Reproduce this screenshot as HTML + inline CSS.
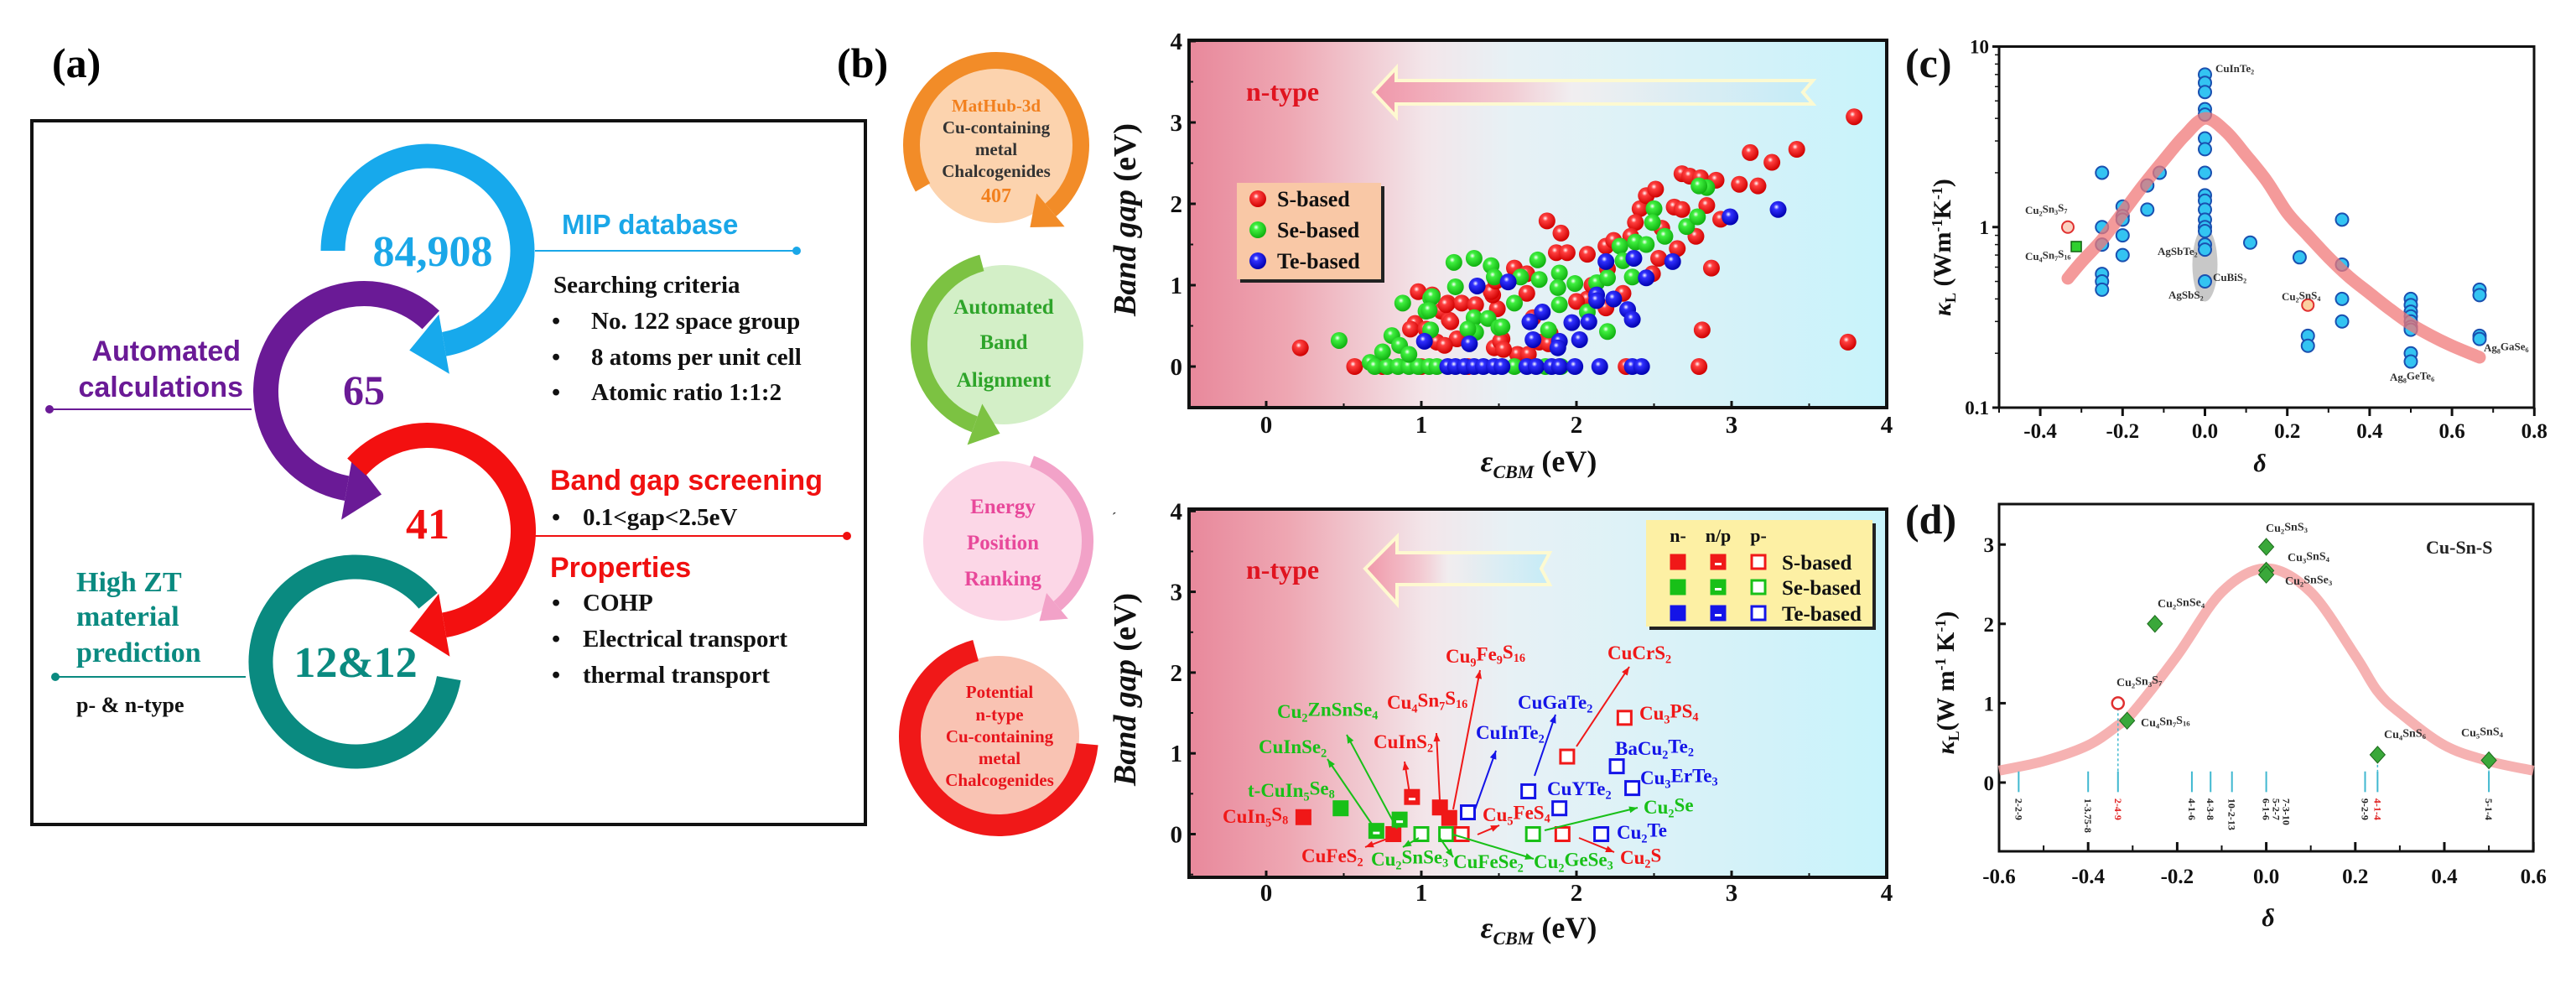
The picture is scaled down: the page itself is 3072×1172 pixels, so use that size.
<!DOCTYPE html>
<html><head><meta charset="utf-8">
<style>
html,body{margin:0;padding:0;background:#fff;}
svg{display:block;}
text{font-family:"Liberation Serif",serif;font-weight:bold;}
.sans{font-family:"Liberation Sans",sans-serif;font-weight:bold;}
</style></head>
<body>
<svg id="fig" width="3072" height="1172" viewBox="0 0 3072 1172" xmlns="http://www.w3.org/2000/svg">
<defs>
<linearGradient id="bgGrad" x1="0" y1="0" x2="1" y2="0">
<stop offset="0" stop-color="#e8889b"/><stop offset="0.14" stop-color="#eea6b2"/><stop offset="0.34" stop-color="#f3e6ea"/><stop offset="0.46" stop-color="#e7f1f5"/><stop offset="1" stop-color="#c8f3fb"/>
</linearGradient>
<linearGradient id="arrGrad" x1="0" y1="0" x2="1" y2="0">
<stop offset="0" stop-color="#f095a8"/><stop offset="0.3" stop-color="#f3c8d0"/><stop offset="0.45" stop-color="#f2eef0"/><stop offset="1" stop-color="#c4ecf7"/>
</linearGradient>
<radialGradient id="ballR" cx="0.4" cy="0.35" r="0.65"><stop offset="0" stop-color="#fff"/><stop offset="0.25" stop-color="#ff4040"/><stop offset="1" stop-color="#d00000"/></radialGradient>
<radialGradient id="ballG" cx="0.4" cy="0.35" r="0.65"><stop offset="0" stop-color="#fff"/><stop offset="0.25" stop-color="#40f040"/><stop offset="1" stop-color="#10b010"/></radialGradient>
<radialGradient id="ballB" cx="0.4" cy="0.35" r="0.65"><stop offset="0" stop-color="#fff"/><stop offset="0.25" stop-color="#3030ff"/><stop offset="1" stop-color="#0000b0"/></radialGradient>
</defs>

<!-- Panel (a) -->
<text x="62" y="92" font-size="50">(a)</text>
<rect x="38" y="144" width="994" height="839" fill="#fff" stroke="#111" stroke-width="4"/>
<g id="panelA"></g>
<text x="516" y="317" font-size="52" fill="#1aa7e8" text-anchor="middle">84,908</text>
<text x="434" y="482" font-size="50" fill="#6a1a96" text-anchor="middle">65</text>
<text x="510" y="642" font-size="52" fill="#f01010" text-anchor="middle">41</text>
<text x="424" y="807" font-size="52" fill="#0a8a80" text-anchor="middle">12&amp;12</text>
<text class="sans" x="670" y="279" font-size="33" fill="#1aa7e8">MIP  database</text>
<line x1="638" y1="299" x2="950" y2="299" stroke="#1aa7e8" stroke-width="2"/>
<circle cx="950" cy="299" r="5" fill="#1aa7e8"/>
<text x="660" y="349" font-size="29" fill="#111">Searching criteria</text>
<g font-size="29" fill="#111">
<text x="658" y="392">•</text><text x="705" y="392">No. 122 space group</text>
<text x="658" y="435">•</text><text x="705" y="435">8 atoms per unit cell</text>
<text x="658" y="477">•</text><text x="705" y="477">Atomic ratio 1:1:2</text>
</g>
<text class="sans" x="287" y="430" font-size="34" fill="#6a1a96" text-anchor="end">Automated</text>
<text class="sans" x="290" y="473" font-size="34" fill="#6a1a96" text-anchor="end">calculations</text>
<line x1="59" y1="488" x2="300" y2="488" stroke="#6a1a96" stroke-width="2"/>
<circle cx="59" cy="488" r="5" fill="#6a1a96"/>
<text class="sans" x="656" y="584" font-size="34" fill="#f01010">Band gap screening</text>
<g font-size="29" fill="#111"><text x="658" y="626">•</text><text x="695" y="626">0.1&lt;gap&lt;2.5eV</text></g>
<line x1="638" y1="639" x2="1010" y2="639" stroke="#f01010" stroke-width="2"/>
<circle cx="1010" cy="639" r="5" fill="#f01010"/>
<text class="sans" x="656" y="688" font-size="34" fill="#f01010">Properties</text>
<g font-size="29" fill="#111">
<text x="658" y="728">•</text><text x="695" y="728">COHP</text>
<text x="658" y="771">•</text><text x="695" y="771">Electrical transport</text>
<text x="658" y="814">•</text><text x="695" y="814">thermal transport</text>
</g>
<g class="sans" font-size="34" fill="#0a8a80">
<text x="91" y="705">High ZT</text><text x="91" y="746">material</text><text x="91" y="789">prediction</text>
</g>
<line x1="66" y1="807" x2="293" y2="807" stroke="#0a8a80" stroke-width="2"/>
<circle cx="66" cy="807" r="5" fill="#0a8a80"/>
<text x="91" y="849" font-size="26" fill="#111">p- &amp; n-type</text>

<!-- Panel (b) flow -->
<text x="998" y="92" font-size="50">(b)</text>
<g id="flowArcs"></g>
<g font-size="21" text-anchor="middle">
<text x="1188" y="133" fill="#f2801e">MatHub-3d</text>
<text x="1188" y="159" fill="#333">Cu-containing</text>
<text x="1188" y="185" fill="#333">metal</text>
<text x="1188" y="211" fill="#333">Chalcogenides</text>
<text x="1188" y="241" fill="#f2801e" font-size="24">407</text>
</g>
<g font-size="25" fill="#2ea42a" text-anchor="middle">
<text x="1197" y="374">Automated</text><text x="1197" y="416">Band</text><text x="1197" y="461">Alignment</text>
</g>
<g font-size="25" fill="#e8489a" text-anchor="middle">
<text x="1196" y="612">Energy</text><text x="1196" y="655">Position</text><text x="1196" y="698">Ranking</text>
</g>
<g font-size="21" fill="#e8141c" text-anchor="middle">
<text x="1192" y="832">Potential</text><text x="1192" y="859">n-type</text><text x="1192" y="885">Cu-containing</text><text x="1192" y="911">metal</text><text x="1192" y="937">Chalcogenides</text>
</g>
<text x="1326" y="622" font-size="16" fill="#333">ˊ</text>

<g id="chartTop"></g>
<g id="chartBot"></g>
<g id="chartC"></g>
<g id="chartD"></g>
</svg>

<script>
// ---------- Data: top scatter (b) ----------
const sBasedX = [0.22,0.57,0.75,1.0,1.3,1.62,1.69,0.98,1.07,0.96,0.93,1.03,1.13,1.18,1.23,1.10,1.17,1.26,1.35,1.16,1.19,1.49,1.46,1.45,1.48,1.6,1.68,1.68,1.52,1.47,1.51,1.53,1.15,1.83,1.76,1.82,1.81,1.90,1.87,1.94,2.07,2.19,2.24,2.07,2.19,2.3,2.49,2.53,2.65,2.77,2.41,2.38,2.45,2.51,2.63,2.68,2.84,2.93,2.68,2.73,2.8,2.9,3.05,3.17,3.12,3.26,3.42,3.79,2.87,2.81,2.79,2.32,3.75,2.0,2.1,1.72,2.2,2.35,2.55];
const sBasedY = [0.23,0,0,0,0,0.15,0.15,0.92,0.88,0.53,0.46,0.46,0.68,0.57,0.34,0.30,0.78,0.78,0.76,0.76,0.55,0.71,0.88,0.92,1.05,1.21,1.14,0.9,0.34,0.23,0.31,0.21,0.26,0.41,0.30,0.28,1.79,1.64,1.40,1.40,1.38,1.48,1.55,0.83,0.72,0.9,1.14,1.33,1.45,1.60,1.94,1.77,2.1,2.18,1.96,1.93,1.98,1.81,2.37,2.34,2.32,2.29,2.24,2.22,2.63,2.51,2.67,3.07,1.21,0.45,0,0,0.30,0.8,1.0,0.6,1.2,1.6,1.7];
const seBasedX = [0.47,0.67,0.70,0.78,0.85,0.92,0.98,1.05,1.1,1.6,1.8,1.9,0.75,0.81,0.86,0.92,0.88,1.06,1.03,1.07,1.05,1.06,1.21,1.34,1.45,1.22,1.47,1.64,1.75,1.76,1.89,1.99,1.88,1.89,1.60,1.34,1.43,1.50,1.35,1.82,2.20,2.07,2.13,2.20,2.28,2.38,2.45,2.50,2.49,2.57,2.71,2.78,2.84,2.79,2.36,2.30,1.3,1.52];
const seBasedY = [0.32,0.05,0,0,0,0,0,0,0,0,0,0,0.18,0.38,0.26,0.15,0.78,0.84,0.68,0.86,0.69,0.45,1.28,1.33,1.24,0.98,1.10,1.10,1.31,1.07,1.15,1.02,0.97,0.76,0.78,0.60,0.59,0.48,0.42,0.45,0.43,0.67,1.03,1.09,1.48,1.53,1.50,1.94,1.77,1.60,1.72,1.84,2.20,2.22,1.10,1.30,0.46,0.49];
const teBasedX = [1.36,1.56,2.19,2.37,2.62,2.45,2.99,3.30,2.13,2.13,2.24,2.33,2.36,1.78,1.70,1.97,2.08,1.72,1.89,2.02,1.88,1.31,1.02,1.17,1.22,1.28,1.34,1.40,1.47,1.52,1.68,1.74,1.84,1.89,1.99,2.15,2.36,2.42];
const teBasedY = [0.99,1.04,1.29,1.33,1.29,1.09,1.84,1.93,0.88,0.81,0.83,0.70,0.58,0.67,0.55,0.54,0.55,0.33,0.31,0.33,0.23,0.28,0.31,0,0,0,0,0,0,0,0,0,0,0,0,0,0,0];
const bTicksX = [0,1,2,3,4];
const bTicksY = [0,1,2,3,4];

// ---------- Data: bottom scatter (b) ----------
const candX = [0.24,0.48,0.71,0.82,0.86,0.94,1.0,1.12,1.18,1.16,1.26,1.30,1.72,1.69,1.89,1.91,1.94,2.16,2.26,2.36,2.31];
const candY = [0.21,0.32,0.04,0,0.18,0.46,0,0.33,0.20,0,0,0.27,0,0.53,0.32,0,0.96,0,0.84,0.57,1.44];
const candAnion = ['S','Se','Se','S','Se','S','Se','S','S','Se','S','Te','Se','Te','Te','S','S','Te','Te','Te','S'];
const candType = ['n','n','np','n','np','np','p','n','n','p','p','p','p','p','p','p','p','p','p','p','p'];

// ---------- Data: panel (c) ----------
const cDelta = [-0.25,-0.25,-0.25,-0.25,-0.25,-0.25,-0.2,-0.2,-0.2,-0.2,-0.2,-0.14,-0.14,-0.11,0,0,0,0,0,0,0,0,0,0,0,0,0,0,0,0,0,0.11,0.23,0.25,0.25,0.333,0.333,0.333,0.333,0.5,0.5,0.5,0.5,0.5,0.5,0.5,0.5,0.5,0.667,0.667,0.667,0.667];
const cKappa = [2.0,1.0,0.8,0.55,0.5,0.45,1.3,1.15,1.1,0.9,0.7,1.7,1.25,2.0,7.0,6.3,5.6,4.5,4.2,3.1,2.7,2.0,1.5,1.4,1.25,1.1,1.0,0.95,0.8,0.75,0.5,0.82,0.68,0.25,0.22,1.1,0.62,0.4,0.3,0.4,0.37,0.34,0.32,0.3,0.28,0.27,0.2,0.18,0.45,0.42,0.25,0.24];
const cCurveD = [-0.333,-0.3,-0.25,-0.2,-0.15,-0.1,-0.05,0,0.05,0.1,0.15,0.2,0.25,0.3,0.35,0.4,0.45,0.5,0.55,0.6,0.667];
const cCurveK = [0.52,0.64,0.85,1.2,1.7,2.35,3.2,4.0,3.4,2.5,1.8,1.2,0.9,0.68,0.53,0.43,0.35,0.29,0.25,0.22,0.19];
const cSpecialD = [-0.333,-0.3125,0.25];
const cSpecialK = [1.0,0.78,0.37];
const cTicksX = [-0.4,-0.2,0.0,0.2,0.4,0.6,0.8];
const cTicksY = [0.1,1,10];

// ---------- Data: panel (d) ----------
const dDelta = [0,0,0,-0.25,-0.3125,0.25,0.5];
const dKappa = [2.97,2.67,2.62,2.0,0.78,0.35,0.28];
const dOpenDelta = [-0.333];
const dOpenKappa = [1.0];
const dCurveD = [-0.6,-0.5,-0.4,-0.333,-0.3,-0.2,-0.1,0,0.1,0.2,0.25,0.3,0.4,0.5,0.6];
const dCurveK = [0.15,0.27,0.47,0.72,0.88,1.6,2.4,2.7,2.4,1.6,1.15,0.88,0.47,0.27,0.15];
const dCompX = [-0.556,-0.4,-0.333,-0.167,-0.125,-0.077,0,0.222,0.25,0.5];
const dCompLabel = ['2-2-9','1-3.75-8','2-4-9','4-1-6','4-3-8','10-2-13','6-1-6  5-2-7  7-3-10','9-2-9','4-1-4','5-1-4'];
const dTicksX = [-0.6,-0.4,-0.2,0.0,0.2,0.4,0.6];
const dTicksY = [0,1,2,3];

const NS = "http://www.w3.org/2000/svg";
function mk(tag, attrs, parent){const e=document.createElementNS(NS,tag);for(const k in attrs)e.setAttribute(k,attrs[k]);parent.appendChild(e);return e;}
function smoothPath(pts){
  let d = `M${pts[0][0]},${pts[0][1]}`;
  for(let i=0;i<pts.length-1;i++){
    const p0=pts[Math.max(0,i-1)], p1=pts[i], p2=pts[i+1], p3=pts[Math.min(pts.length-1,i+2)];
    const c1=[p1[0]+(p2[0]-p0[0])/6, p1[1]+(p2[1]-p0[1])/6];
    const c2=[p2[0]-(p3[0]-p1[0])/6, p2[1]-(p3[1]-p1[1])/6];
    d += ` C${c1[0]},${c1[1]} ${c2[0]},${c2[1]} ${p2[0]},${p2[1]}`;
  }
  return d;
}
function chem(el, str){
  const parts = str.split(/(\d+)/);
  let sub=false;
  parts.forEach(p=>{ if(!p) return; const isD=/^\d+$/.test(p);
    const t=document.createElementNS(NS,'tspan');
    if(isD){t.setAttribute('font-size','0.62em');t.setAttribute('dy', sub?'0':'0.3em');sub=true;}
    else{ if(sub){t.setAttribute('dy','-0.3em');} sub=false;}
    t.textContent=p; el.appendChild(t);});
}
function polar(cx,cy,r,a){const t=a*Math.PI/180;return [cx+r*Math.cos(t),cy+r*Math.sin(t)];}
function arcArrow(parent,cx,cy,r,a1,a2,w,color,head,hw,hl){
  const cw = a2>a1; const [x1,y1]=polar(cx,cy,r,a1); const [x2,y2]=polar(cx,cy,r,a2);
  const large = Math.abs(a2-a1)>180?1:0;
  const p = mk('path',{d:`M${x1},${y1} A${r},${r} 0 ${large} ${cw?1:0} ${x2},${y2}`,fill:'none',stroke:color,'stroke-width':w},parent);
  if(head){
    const t=a2*Math.PI/180; const tx=cw?-Math.sin(t):Math.sin(t), ty=cw?Math.cos(t):-Math.cos(t);
    const nx=Math.cos(t), ny=Math.sin(t);
    const pts=[[x2+nx*hw,y2+ny*hw],[x2-nx*hw,y2-ny*hw],[x2+tx*hl,y2+ty*hl]];
    const h = mk('polygon',{points:pts.map(q=>q.join(',')).join(' '),fill:color},parent);
    
    
  }
  return p;
}

// ---------- Panel (a) arcs ----------
const gA = document.getElementById('panelA');
let a;
a = arcArrow(gA,510,299,113,180,440,29,'#17a9ec',true,36,42);


a = arcArrow(gA,434,467,117,313,100,30,'#6a1a96',true,38,42);


a = arcArrow(gA,510,633,114,222,440,30,'#f31010',true,38,42);


a = arcArrow(gA,424,789,113,10,320,29,'#0a8a80',false);



// ---------- Flow circles ----------
const gF = document.getElementById('flowArcs');
let c;
c = mk('circle',{cx:1188,cy:173,r:93,fill:'#fcd3ae'},gF);


a = arcArrow(gF,1188,173,101,150,410,20,'#f28c28',true,26,32);


c = mk('circle',{cx:1197,cy:411,r:95,fill:'#d3efc7'},gF);


a = arcArrow(gF,1197,411,101,255,110,20,'#7cc242',true,26,32);


c = mk('circle',{cx:1196,cy:645,r:95,fill:'#fcd7e7'},gF);


a = arcArrow(gF,1196,645,101,290,410,14,'#f2a2c8',true,20,28);


c = mk('circle',{cx:1191,cy:878,r:96,fill:'#f9c3b3'},gF);


a = arcArrow(gF,1191,878,106,5,255,26,'#f01818',false);



// ---------- (b) charts shared ----------
const xB = e => 1510 + 185*e;
function drawBFrame(g, yMap, top, bottom, arrowPts, ntypeY, tickY, titleY, ylabY){
  const r = mk('rect',{x:1418,y:top,width:832,height:bottom-top,fill:'url(#bgGrad)'},g);
  
  
  const ar = mk('polygon',{points:arrowPts,fill:'url(#arrGrad)',stroke:'#fffbd0','stroke-width':4,opacity:0.95},g);
  
  
  const nt = mk('text',{x:1486,y:ntypeY,'font-size':32,fill:'#e01420'},g);
  nt.textContent='n-type';
  
  
  bTicksX.forEach(v=>{
    const t=mk('line',{x1:xB(v),x2:xB(v),y1:bottom,y2:bottom-8,stroke:'#111','stroke-width':3},g);
    
    
    const m=mk('line',{x1:xB(v-0.5),x2:xB(v-0.5),y1:bottom,y2:bottom-5,stroke:'#111','stroke-width':2},g);
    
    
    const l=mk('text',{x:xB(v),y:tickY,'font-size':29,'text-anchor':'middle',fill:'#111'},g);
    l.textContent=String(v);
    
    
  });
  bTicksY.forEach(v=>{
    const t=mk('line',{x1:1418,x2:1426,y1:yMap(v),y2:yMap(v),stroke:'#111','stroke-width':3},g);
    
    
    const m=mk('line',{x1:1418,x2:1423,y1:yMap(v-0.5),y2:yMap(v-0.5),stroke:'#111','stroke-width':2},g);
    
    
    const l=mk('text',{x:1410,y:yMap(v)+10,'font-size':29,'text-anchor':'end',fill:'#111'},g);
    l.textContent=String(v);
    
    
  });
  const fr = mk('rect',{x:1418,y:top,width:832,height:bottom-top,fill:'none',stroke:'#111','stroke-width':4},g);
  
  
  const xt = mk('text',{x:1835,y:titleY,'font-size':36,'text-anchor':'middle',fill:'#111'},g);
  xt.innerHTML='<tspan font-style="italic">ε</tspan><tspan font-style="italic" font-size="22" dy="8">CBM</tspan><tspan dy="-8"> (eV)</tspan>';
  
  
  const yt = mk('text',{x:0,y:0,'font-size':38,'text-anchor':'middle',fill:'#111',transform:`translate(1354,${ylabY}) rotate(-90)`},g);
  yt.innerHTML='<tspan font-style="italic">Band gap</tspan> (eV)';
  
  
}

// top chart
const gT = document.getElementById('chartTop');
const yT = g => 437 - 97*g;
drawBFrame(gT, yT, 48, 486, '1638,110 1665,81 1665,96 2162,96 2150,110 2162,124 1665,124 1665,139', 120, 516, 562, 262);
function balls(xs, ys, fill, name){
  xs.forEach((v,i)=>{
    const b = mk('circle',{cx:xB(v),cy:yT(ys[i]),r:10,fill:fill},gT);
    
    
  });
}
balls(sBasedX, sBasedY, 'url(#ballR)', 's-based-point');
balls(seBasedX, seBasedY, 'url(#ballG)', 'se-based-point');
balls(teBasedX, teBasedY, 'url(#ballB)', 'te-based-point');
{
  const sh = mk('rect',{x:1479,y:222,width:172,height:115,fill:'#222'},gT);
  
  
  const lg = mk('rect',{x:1475,y:218,width:172,height:115,fill:'#f9c8a6'},gT);
  
  
  [['url(#ballR)','S-based',237],['url(#ballG)','Se-based',274],['url(#ballB)','Te-based',311]].forEach(e=>{
    const m = mk('circle',{cx:1500,cy:e[2],r:10,fill:e[0]},gT);
    
    
    const t = mk('text',{x:1523,y:e[2]+9,'font-size':26,fill:'#111'},gT);
    t.textContent=e[1];
    
    
  });
}

// bottom chart
const gB = document.getElementById('chartBot');
const yB = g => 994.5 - 96.3*g;
drawBFrame(gB, yB, 607, 1046, '1628,678 1666,640 1666,659 1848,659 1838,678 1848,697 1666,697 1666,720', 690, 1074, 1118, 822);
const colMap = {S:'#f01818',Se:'#18c018',Te:'#1414e8'};
function sq(g,cx,cy,anion,type,name){
  const col = colMap[anion];
  const s = mk('rect',{x:cx-8,y:cy-8,width:16,height:16,fill:type==='p'?'#fff':col,stroke:col,'stroke-width':3},g);
  
  
  if(type==='np'){
    const w = mk('rect',{x:cx-4,y:cy+1,width:8,height:3,fill:'#fff'},g);
    
    
  }
}
candX.forEach((v,i)=>{ sq(gB, xB(v), yB(candY[i]), candAnion[i], candType[i], 'candidate-point'); });
const labels = [
 ['CuIn5S8',1458,981,'S'],['t-CuIn5Se8',1488,950,'Se'],['CuInSe2',1501,898,'Se'],['Cu2ZnSnSe4',1523,856,'Se'],
 ['CuInS2',1638,892,'S'],['Cu4Sn7S16',1654,845,'S'],['Cu9Fe9S16',1724,790,'S'],['CuInTe2',1760,881,'Te'],
 ['CuGaTe2',1810,845,'Te'],['Cu5FeS4',1768,979,'S'],['CuFeS2',1552,1028,'S'],['Cu2SnSe3',1635,1032,'Se'],
 ['CuFeSe2',1733,1035,'Se'],['Cu2GeSe3',1829,1035,'Se'],['CuCrS2',1917,786,'S'],['Cu3PS4',1955,858,'S'],
 ['BaCu2Te2',1926,900,'Te'],['Cu3ErTe3',1956,935,'Te'],['CuYTe2',1845,948,'Te'],['Cu2Se',1960,970,'Se'],
 ['Cu2Te',1928,1000,'Te'],['Cu2S',1932,1030,'S']];
labels.forEach(l=>{
  const t = mk('text',{x:l[1],y:l[2],'font-size':23,fill:colMap[l[3]]},gB);
  chem(t,l[0]);
  
  
});
const arrows = [
 [1641,990,1583,905,'Se'],[1666,988,1606,876,'Se'],[1681,946,1675,908,'S'],[1717,954,1713,874,'S'],
 [1733,965,1765,799,'S'],[1759,965,1784,895,'Te'],[1830,925,1855,852,'Te'],[1762,995,1788,984,'S'],
 [1657,999,1628,1010,'S'],[1692,999,1673,1010,'Se'],[1717,999,1733,1022,'Se'],[1733,995,1829,1024,'Se'],
 [1880,890,1943,795,'S'],[1842,990,1953,963,'Se'],[1883,999,1925,1016,'S']];
arrows.forEach(r=>{
  const col = colMap[r[4]];
  const ln = mk('line',{x1:r[0],y1:r[1],x2:r[2],y2:r[3],stroke:col,'stroke-width':2},gB);
  
  
  const ang = Math.atan2(r[3]-r[1], r[2]-r[0]);
  const p1=[r[2]-10*Math.cos(ang)+4*Math.sin(ang), r[3]-10*Math.sin(ang)-4*Math.cos(ang)];
  const p2=[r[2]-10*Math.cos(ang)-4*Math.sin(ang), r[3]-10*Math.sin(ang)+4*Math.cos(ang)];
  const hd = mk('polygon',{points:`${r[2]},${r[3]} ${p1.join(',')} ${p2.join(',')}`,fill:col},gB);
  
  
});
{
  const sh = mk('rect',{x:1967,y:624,width:270,height:127,fill:'#222'},gB);
  
  
  const lg = mk('rect',{x:1963,y:620,width:270,height:127,fill:'#fdf0a4'},gB);
  
  
  [['n-',2001],['n/p',2049],['p-',2097]].forEach(h=>{
    const t = mk('text',{x:h[1],y:646,'font-size':22,'text-anchor':'middle',fill:'#111'},gB);
    t.textContent=h[0];
    
    
  });
  [['S','S-based',670],['Se','Se-based',700],['Te','Te-based',731]].forEach(r=>{
    sq(gB,2001,r[2],r[0],'n','legend-marker');
    sq(gB,2049,r[2],r[0],'np','legend-marker');
    sq(gB,2097,r[2],r[0],'p','legend-marker');
    const t = mk('text',{x:2125,y:r[2]+9,'font-size':25,fill:'#111'},gB);
    t.textContent=r[1];
    
    
  });
}

// ---------- Panel (c) ----------
const gC = document.getElementById('chartC');
const xC = d => 2384 + (d+0.5)*491;
const yC = k => 270.75 - 215.25*Math.log10(k);
{
  const lab = mk('text',{x:2272,y:92,'font-size':50,fill:'#111'},gC);
  lab.textContent='(c)';
  
  
  const fr = mk('rect',{x:2384,y:55.5,width:638,height:430.5,fill:'#fff',stroke:'#111','stroke-width':3},gC);
  
  
  for(let d=-0.5; d<=0.801; d+=0.1){
    const t = mk('line',{x1:xC(d),x2:xC(d),y1:486,y2:492,stroke:'#111','stroke-width':2},gC);
    
    
  }
  cTicksX.forEach(v=>{
    const t = mk('line',{x1:xC(v),x2:xC(v),y1:486,y2:496,stroke:'#111','stroke-width':3},gC);
    
    
    const l = mk('text',{x:xC(v),y:522,'font-size':25,'text-anchor':'middle',fill:'#111'},gC);
    l.textContent=v.toFixed(1);
    
    
  });
  cTicksY.forEach(v=>{
    const t = mk('line',{x1:2376,x2:2384,y1:yC(v),y2:yC(v),stroke:'#111','stroke-width':3},gC);
    
    
    const l = mk('text',{x:2372,y:yC(v)+8,'font-size':23,'text-anchor':'end',fill:'#111'},gC);
    l.textContent=String(v);
    
    
    if(v<10){ for(let m=2;m<10;m++){
      const mt = mk('line',{x1:2379,x2:2384,y1:yC(v*m),y2:yC(v*m),stroke:'#111','stroke-width':1.5},gC);
      
      
    }}
  });
  const xt = mk('text',{x:2695,y:562,'font-size':30,'font-style':'italic','font-weight':'normal','text-anchor':'middle',fill:'#111'},gC);
  xt.textContent='δ';
  
  
  const yt = mk('text',{x:0,y:0,'font-size':30,'text-anchor':'middle',fill:'#111',transform:'translate(2326,295) rotate(-90)'},gC);
  yt.innerHTML='<tspan font-style="italic">κ</tspan><tspan font-size="18" dy="6">L</tspan><tspan dy="-6"> (Wm</tspan><tspan font-size="18" dy="-10">-1</tspan><tspan dy="10">K</tspan><tspan font-size="18" dy="-10">-1</tspan><tspan dy="10">)</tspan>';
  
  
  const el = mk('ellipse',{cx:xC(0),cy:yC(0.62),rx:15,ry:44,fill:'#c8c8c8'},gC);
  
  
  cDelta.forEach((d,i)=>{
    const p = mk('circle',{cx:xC(d),cy:yC(cKappa[i]),r:7.5,fill:'#33c4f2',stroke:'#1a50b0','stroke-width':2},gC);
    
    
  });
  const cv = mk('path',{d:smoothPath(cCurveD.map((d,i)=>[xC(d),yC(cCurveK[i])])),fill:'none',stroke:'#f07878','stroke-width':15,'stroke-linecap':'round','stroke-linejoin':'round',opacity:0.75},gC);
  
  
  const s0 = mk('circle',{cx:xC(cSpecialD[0]),cy:yC(cSpecialK[0]),r:7,fill:'#fbd0c0',stroke:'#e03030','stroke-width':2},gC);
  
  
  const s1 = mk('rect',{x:xC(cSpecialD[1])-6,y:yC(cSpecialK[1])-6,width:12,height:12,fill:'#30d030',stroke:'#106010','stroke-width':1.5},gC);
  
  
  const s2 = mk('circle',{cx:xC(cSpecialD[2]),cy:yC(cSpecialK[2]),r:7,fill:'#fbd0a0',stroke:'#e03030','stroke-width':2},gC);
  
  
  [['CuInTe2',2642,86],['Cu2Sn3S7',2415,255],['Cu4Sn7S16',2415,310],['AgSbTe2',2573,304],['CuBiS2',2639,335],['AgSbS2',2586,356],['Cu2SnS4',2721,358],['Ag8GeTe6',2850,454],['Ag8GaSe6',2962,419]].forEach(l=>{
    const t = mk('text',{x:l[1],y:l[2],'font-size':13,fill:'#333'},gC);
    chem(t,l[0]);
    
    
  });
}

// ---------- Panel (d) ----------
const gD = document.getElementById('chartD');
const xD = d => 2384 + (d+0.6)*531;
const yD = v => 933 - 94.6*v;
{
  const lab = mk('text',{x:2272,y:636,'font-size':50,fill:'#111'},gD);
  lab.textContent='(d)';
  
  
  const fr = mk('rect',{x:2384,y:601,width:637,height:414,fill:'#fff',stroke:'#111','stroke-width':3},gD);
  
  
  for(let d=-0.6; d<=0.601; d+=0.1){
    const t = mk('line',{x1:xD(d),x2:xD(d),y1:1015,y2:1008,stroke:'#111','stroke-width':2},gD);
    
    
  }
  dTicksX.forEach(v=>{
    const t = mk('line',{x1:xD(v),x2:xD(v),y1:1015,y2:1004,stroke:'#111','stroke-width':3},gD);
    
    
    const l = mk('text',{x:xD(v),y:1053,'font-size':25,'text-anchor':'middle',fill:'#111'},gD);
    l.textContent=v.toFixed(1);
    
    
  });
  dTicksY.forEach(v=>{
    const t = mk('line',{x1:2384,x2:2392,y1:yD(v),y2:yD(v),stroke:'#111','stroke-width':3},gD);
    
    
    const l = mk('text',{x:2378,y:yD(v)+9,'font-size':25,'text-anchor':'end',fill:'#111'},gD);
    l.textContent=String(v);
    
    
  });
  const xt = mk('text',{x:2705,y:1104,'font-size':30,'font-style':'italic','font-weight':'normal','text-anchor':'middle',fill:'#111'},gD);
  xt.textContent='δ';
  
  
  const yt = mk('text',{x:0,y:0,'font-size':30,'text-anchor':'middle',fill:'#111',transform:'translate(2330,814) rotate(-90)'},gD);
  yt.innerHTML='<tspan font-style="italic">κ</tspan><tspan font-size="18" dy="6">L</tspan><tspan dy="-6">(W m</tspan><tspan font-size="18" dy="-10">-1</tspan><tspan dy="10"> K</tspan><tspan font-size="18" dy="-10">-1</tspan><tspan dy="10">)</tspan>';
  
  
  const sys = mk('text',{x:2893,y:660,'font-size':22,fill:'#222'},gD);
  sys.textContent='Cu-Sn-S';
  
  
  const cv = mk('path',{d:smoothPath(dCurveD.map((d,i)=>[xD(d),yD(dCurveK[i])])),fill:'none',stroke:'#f5a5a5','stroke-width':12,'stroke-linejoin':'round',opacity:0.85},gD);
  
  
  dCompX.forEach((d,i)=>{
    const red = (dCompLabel[i]==='2-4-9'||dCompLabel[i]==='4-1-4');
    const ln = mk('line',{x1:xD(d),x2:xD(d),y1:yD(0.14),y2:yD(-0.12),stroke:'#40b8d0','stroke-width':2},gD);
    
    
    const parts = dCompLabel[i].split('  ');
    parts.forEach((p,j)=>{
      const t = mk('text',{x:0,y:0,'font-size':12,fill:red?'#e02020':'#222',transform:`translate(${xD(d)-4+j*12},${yD(-0.2)}) rotate(90)`},gD);
      t.textContent=p;
      
      
    });
  });
  [[-0.333,1.0],[0.25,0.35],[0.5,0.28]].forEach(p=>{
    const dl = mk('line',{x1:xD(p[0]),x2:xD(p[0]),y1:yD(p[1]),y2:yD(0.14),stroke:'#40b8d0','stroke-width':1.5,'stroke-dasharray':'3,3'},gD);
    
    
  });
  dDelta.forEach((d,i)=>{
    const cx=xD(d), cy=yD(dKappa[i]);
    const m = mk('polygon',{points:`${cx},${cy-10} ${cx+9},${cy} ${cx},${cy+10} ${cx-9},${cy}`,fill:'#3aa83a',stroke:'#1c6a1c','stroke-width':1},gD);
    
    
  });
  dOpenDelta.forEach((d,i)=>{
    const m = mk('circle',{cx:xD(d),cy:yD(dOpenKappa[i]),r:7,fill:'#fff',stroke:'#e03030','stroke-width':2.5},gD);
    
    
  });
  [['Cu2SnS3',2702,634],['Cu3SnS4',2728,669],['Cu2SnSe3',2725,697],['Cu2SnSe4',2573,724],['Cu2Sn3S7',2524,818],['Cu4Sn7S16',2553,866],['Cu4SnS6',2843,880],['Cu5SnS4',2935,878]].forEach(l=>{
    const t = mk('text',{x:l[1],y:l[2],'font-size':14,fill:'#333'},gD);
    chem(t,l[0]);
    
    
  });
}
</script>
</body></html>
